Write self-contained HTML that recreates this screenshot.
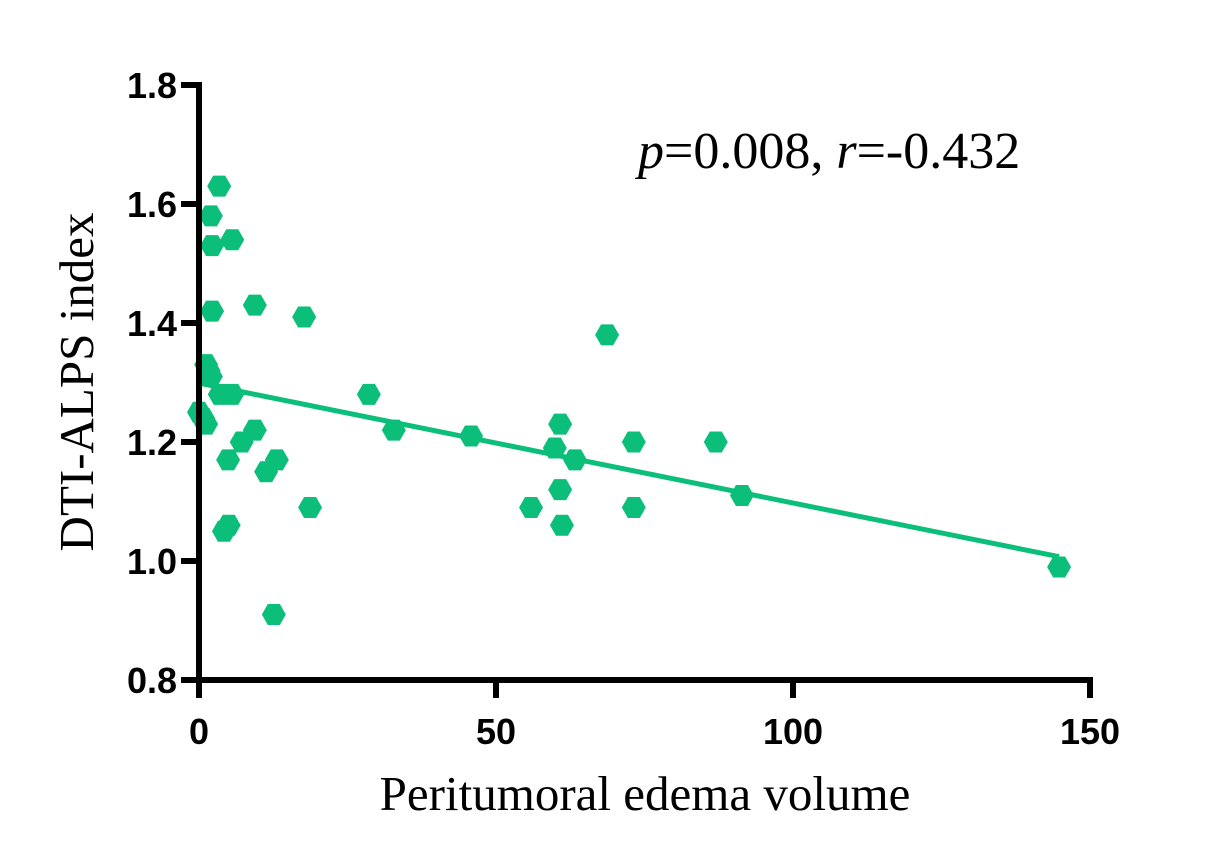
<!DOCTYPE html>
<html><head><meta charset="utf-8"><style>
html,body{margin:0;padding:0;background:#fff;}
svg{display:block;}
.tick{font-family:"Liberation Sans",Arial,sans-serif;font-weight:bold;font-size:36px;fill:#000;}
.title{font-family:"Liberation Serif","Times New Roman",serif;font-size:49px;fill:#000;}
.ann{font-family:"Liberation Serif","Times New Roman",serif;font-size:52px;fill:#000;}
</style></head><body>
<svg id="chart" width="1229" height="863" viewBox="0 0 1229 863" xmlns="http://www.w3.org/2000/svg">
<g id="marks"></g>
<g id="axes"></g>
<text class="title" x="645" y="810" text-anchor="middle">Peritumoral edema volume</text>
<text class="title" transform="translate(93,382) rotate(-90)" text-anchor="middle">DTI-ALPS index</text>
<text class="ann" x="638" y="168"><tspan font-style="italic">p</tspan>=0.008, <tspan font-style="italic">r</tspan>=-0.432</text>
</svg>
<script>
const xVals=[3.4,2.0,2.2,5.6,2.2,9.4,17.7,1.2,2.0,1.6,3.5,5.6,0,0.7,1.2,7.2,9.4,4.9,11.3,13.1,18.7,4.2,5.0,12.6,28.6,32.8,45.8,55.9,59.9,60.8,60.8,61.1,63.3,68.7,73.2,73.2,87,91.4,144.8];
const yVals=[1.63,1.58,1.53,1.54,1.42,1.43,1.41,1.33,1.31,1.32,1.28,1.28,1.25,1.24,1.23,1.20,1.22,1.17,1.15,1.17,1.09,1.05,1.06,0.91,1.28,1.22,1.21,1.09,1.19,1.23,1.12,1.06,1.17,1.38,1.20,1.09,1.20,1.11,0.99];
const xTicks=[0,50,100,150];
const yTicks=[0.8,1.0,1.2,1.4,1.6,1.8];
const yTickLabels=["0.8","1.0","1.2","1.4","1.6","1.8"];
const X0=199,X1=1090,Y0=680,Y1=85;
const sx=v=>X0+(v-0)/(150-0)*(X1-X0);
const sy=v=>Y0-(v-0.8)/(1.8-0.8)*(Y0-Y1);
const NS="http://www.w3.org/2000/svg";
const marks=document.getElementById('marks'),axes=document.getElementById('axes');
function mk(t,a,p){const e=document.createElementNS(NS,t);for(const k in a)e.setAttribute(k,a[k]);p.appendChild(e);return e;}
const n=xVals.length;let mx=0,my=0;for(let i=0;i<n;i++){mx+=xVals[i];my+=yVals[i];}mx/=n;my/=n;
let sxy=0,sxx=0;for(let i=0;i<n;i++){sxy+=(xVals[i]-mx)*(yVals[i]-my);sxx+=(xVals[i]-mx)**2;}
const b=sxy/sxx,a0=my-b*mx;const xmin=Math.min(...xVals),xmax=Math.max(...xVals);
const line=mk('line',{x1:sx(xmin),y1:sy(a0+b*xmin),x2:sx(xmax),y2:sy(a0+b*xmax),stroke:'#0bbf7a','stroke-width':5},marks);


for(let i=0;i<n;i++){const cx=sx(xVals[i]),cy=sy(yVals[i]);const r=12,h=10.5;
const pts=[[cx-r,cy],[cx-r/2,cy-h],[cx+r/2,cy-h],[cx+r,cy],[cx+r/2,cy+h],[cx-r/2,cy+h]].map(p=>p.join(',')).join(' ');
const p=mk('polygon',{points:pts,fill:'#0bbf7a'},marks);

}
const ya=mk('line',{x1:X0,y1:Y1-3,x2:X0,y2:Y0+3,stroke:'#000','stroke-width':6},axes);


const xa=mk('line',{x1:X0-3,y1:Y0,x2:X1+3,y2:Y0,stroke:'#000','stroke-width':6},axes);


yTicks.forEach((v,i)=>{const y=sy(v);
mk('line',{x1:X0-18,y1:y,x2:X0,y2:y,stroke:'#000','stroke-width':6},axes);
const t=mk('text',{x:X0-22,y:y+13,'text-anchor':'end',class:'tick'},axes);t.textContent=yTickLabels[i];

});
xTicks.forEach(v=>{const x=sx(v);
mk('line',{x1:x,y1:Y0,x2:x,y2:Y0+18,stroke:'#000','stroke-width':6},axes);
const t=mk('text',{x:x,y:Y0+64,'text-anchor':'middle',class:'tick'},axes);t.textContent=v;

});
</script>
</body></html>
